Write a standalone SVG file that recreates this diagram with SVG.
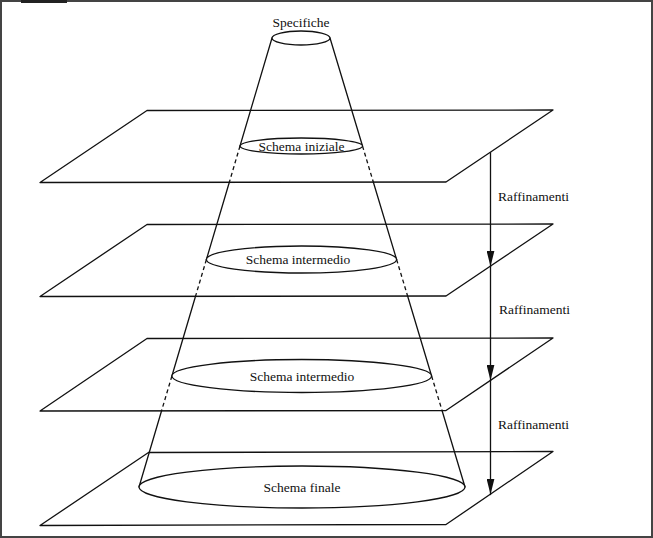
<svg xmlns="http://www.w3.org/2000/svg" width="653" height="538" viewBox="0 0 653 538">
  <style>
    .ln { fill: none; stroke: #111; stroke-width: 1.3; stroke-linecap: round; stroke-linejoin: round; }
    .dash { fill: none; stroke: #111; stroke-width: 1.3; stroke-dasharray: 4 3; }
    .ell { fill: #fff; stroke: #111; stroke-width: 1.3; }
    .txt { font-family: 'Liberation Serif', serif; font-size: 13.5px; fill: #111; }
    .mid { text-anchor: middle; }
  </style>
  <defs>
    <marker id="arrow" markerUnits="userSpaceOnUse" markerWidth="16" markerHeight="8" refX="16" refY="4" orient="auto">
      <path d="M0,0 L16,4 L0,8 z" fill="#111"/>
    </marker>
  </defs>
  <rect x="0" y="0" width="653" height="538" fill="#fff"/>
  <rect x="1" y="1" width="651" height="536" fill="none" stroke="#444" stroke-width="2"/>
  <rect x="21" y="0" width="46" height="3" fill="#222"/>

  <g id="plane-1"><polygon class="ln" points="147,110.5 553,110 446,182 40,182.5"/></g>
  <g id="plane-2"><polygon class="ln" points="147,224.5 553,224 446,296 40,296.5"/></g>
  <g id="plane-3"><polygon class="ln" points="147,338.5 553,338 446,410.5 40,411"/></g>
  <g id="plane-4"><polygon class="ln" points="148.5,452.5 553,451.5 446,524.5 40,525.5"/></g>

  <g id="cone">
    <polyline class="ln" points="272,38 240,146"/>
    <polyline class="dash" points="240,146 229.1,183"/>
    <polyline class="ln" points="229.1,183 206.4,259.5"/>
    <polyline class="dash" points="206.4,259.5 195.3,297"/>
    <polyline class="ln" points="195.3,297 171.9,376"/>
    <polyline class="dash" points="171.9,376 161.5,411"/>
    <polyline class="ln" points="161.5,411 139,487"/>
    <polyline class="ln" points="330,38 362.5,146"/>
    <polyline class="dash" points="362.5,146 373.6,183"/>
    <polyline class="ln" points="373.6,183 396.6,259.5"/>
    <polyline class="dash" points="396.6,259.5 407.9,297"/>
    <polyline class="ln" points="407.9,297 431.6,376"/>
    <polyline class="dash" points="431.6,376 442.2,411"/>
    <polyline class="ln" points="442.2,411 465,487"/>
  </g>

  <g id="node-specifiche">
    <ellipse class="ell" cx="301" cy="38" rx="29" ry="7"/>
    <text class="txt mid" font-family="Liberation Serif, serif" x="301" y="27">Specifiche</text>
  </g>
  <g id="node-schema-iniziale">
    <ellipse class="ell" cx="301.25" cy="146" rx="61.25" ry="8"/>
    <text class="txt mid" font-family="Liberation Serif, serif" x="301.5" y="150.5">Schema iniziale</text>
  </g>
  <g id="node-schema-intermedio-1">
    <ellipse class="ell" cx="301.5" cy="259.5" rx="95.1" ry="13.5"/>
    <text class="txt mid" font-family="Liberation Serif, serif" x="298" y="264">Schema intermedio</text>
  </g>
  <g id="node-schema-intermedio-2">
    <ellipse class="ell" cx="301.75" cy="376" rx="129.85" ry="16.5"/>
    <text class="txt mid" font-family="Liberation Serif, serif" x="302" y="380.5">Schema intermedio</text>
  </g>
  <g id="node-schema-finale">
    <ellipse class="ell" cx="302" cy="487" rx="163" ry="21"/>
    <text class="txt mid" font-family="Liberation Serif, serif" x="302" y="491.5">Schema finale</text>
  </g>

  <g id="connectors">
    <line class="ln" x1="490.5" y1="152.6" x2="490.5" y2="266.5" marker-end="url(#arrow)"/>
    <line class="ln" x1="490.5" y1="266.5" x2="490.5" y2="380.6" marker-end="url(#arrow)"/>
    <line class="ln" x1="490.5" y1="380.6" x2="490.5" y2="494.5" marker-end="url(#arrow)"/>
    <text class="txt" font-family="Liberation Serif, serif" x="498" y="201">Raffinamenti</text>
    <text class="txt" font-family="Liberation Serif, serif" x="499" y="314">Raffinamenti</text>
    <text class="txt" font-family="Liberation Serif, serif" x="498" y="428.5">Raffinamenti</text>
  </g>
</svg>
